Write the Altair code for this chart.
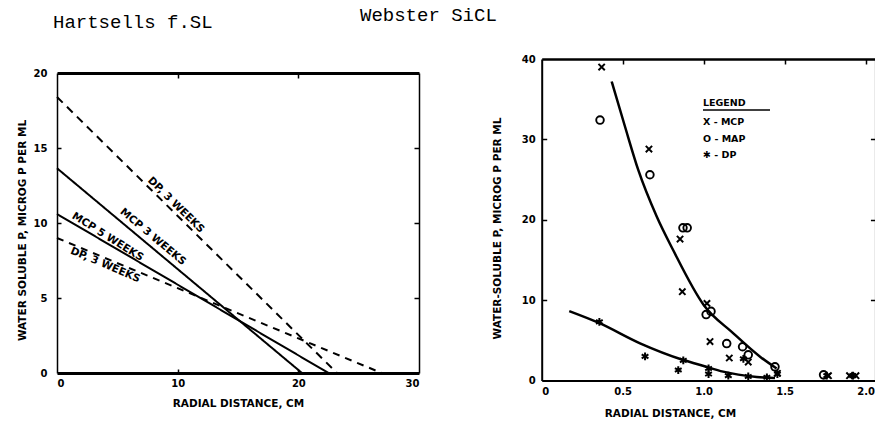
import altair as alt
import pandas as pd

# ---------------- data ----------------
# Left panel: Hartsells f.SL  (straight lines from radial distance 0 to where they reach 0)
left_keys = ["dp3_upper", "mcp3", "mcp5", "dp_lower"]
left_labels = ["DP, 3 WEEKS", "MCP 3 WEEKS", "MCP 5 WEEKS", "DP, 3 WEEKS"]
left_y_at_zero = [18.4, 13.65, 10.6, 9.0]
left_x_at_end = [23.2, 20.3, 22.5, 26.9]

# Right panel: Webster SiCL
upper_curve_x = [0.432, 0.514, 0.596, 0.71, 0.812, 1.0, 1.183, 1.348, 1.45]
upper_curve_y = [37.2, 31.6, 26.2, 20.4, 16.2, 9.4, 5.87, 2.96, 1.5]
lower_curve_x = [0.17, 0.35, 0.607, 0.874, 1.0, 1.12, 1.327, 1.44]
lower_curve_y = [8.64, 7.2, 4.63, 2.55, 1.8, 1.1, 0.45, 0.3]

mcp_x = [0.37, 0.662, 0.854, 0.868, 1.02, 1.039, 1.158, 1.275, 1.455, 1.77, 1.90, 1.94]
mcp_y = [39.0, 28.8, 17.6, 11.05, 9.6, 4.85, 2.8, 2.3, 0.9, 0.6, 0.6, 0.6]
map_x = [0.36, 0.668, 0.872, 0.898, 1.015, 1.045, 1.142, 1.24, 1.275, 1.44, 1.74]
map_y = [32.4, 25.6, 19.0, 19.0, 8.2, 8.6, 4.6, 4.2, 3.2, 1.7, 0.7]
dp_x = [0.356, 0.638, 0.874, 0.843, 1.03, 1.03, 1.152, 1.245, 1.275, 1.39, 1.455, 1.76, 1.92]
dp_y = [7.3, 3.0, 2.5, 1.3, 1.5, 0.8, 0.6, 2.7, 0.5, 0.4, 0.8, 0.6, 0.6]

left_x_ticks = [0, 10, 20, 30]
left_y_ticks = [0, 5, 10, 15, 20]
right_x_ticks = [0, 0.5, 1.0, 1.5, 2.0]
right_y_ticks = [0, 10, 20, 30, 40]

titles = ["Hartsells f.SL", "Webster SiCL"]
legend_lines = ["LEGEND", "X - MCP", "O - MAP", "\u2731 - DP"]
x_title = "RADIAL DISTANCE, CM"
left_y_title = "WATER SOLUBLE P, MICROG P PER ML"
right_y_title = "WATER-SOLUBLE P, MICROG P PER ML"

# ---------------- tables ----------------
rows = []
for k, y0, xe in zip(left_keys, left_y_at_zero, left_x_at_end):
    rows.append({"series": k, "x": 0.0, "y": y0})
    rows.append({"series": k, "x": xe, "y": 0.0})
left_df = pd.DataFrame(rows)

curve_df = pd.concat([
    pd.DataFrame({"curve": "upper", "x": upper_curve_x, "y": upper_curve_y}),
    pd.DataFrame({"curve": "lower", "x": lower_curve_x, "y": lower_curve_y}),
])
mcp_df = pd.DataFrame({"x": mcp_x, "y": mcp_y})
map_df = pd.DataFrame({"x": map_x, "y": map_y})
dp_df = pd.DataFrame({"x": dp_x, "y": dp_y})
one = pd.DataFrame({"a": [0]})

# ---------------- layout (pixels, relative to the left plot area) ----------------
W, H = 362, 300
LX = ([0, 30], [0, W])
LY = ([0, 20], [H, 0])
RX0 = 484.7
RX = ([0, 2.06], [RX0, RX0 + 2.06 * 162])
RY = ([0, 40], [307.5, -14])

FONT = "DejaVu Sans"
base_axis = dict(grid=False, labelFont=FONT, labelFontWeight="bold", labelFontSize=10,
                 labelColor="black", domainColor="black", tickColor="black",
                 titleFont=FONT, titleFontWeight="bold", titleFontSize=10.5,
                 titleColor="black")


def axis(**kw):
    d = dict(base_axis)
    d.update(kw)
    return alt.Axis(**d)


def scale(s):
    return alt.Scale(domain=s[0], range=s[1], nice=False, zero=False)


def X(s, ax=None):
    return alt.X("x:Q", scale=scale(s), axis=ax)


def Y(s, ax=None):
    return alt.Y("y:Q", scale=scale(s), axis=ax)


layers = []

# ---- left panel lines with labelled axes
layers.append(
    alt.Chart(left_df).mark_line(color="black", strokeWidth=2).encode(
        x=X(LX, axis(values=left_x_ticks, ticks=False, domainWidth=3, labelPadding=5,
                     title=x_title, titleX=181, titleY=30, titleAlign="center",
                     titleBaseline="middle", orient="bottom")),
        y=Y(LY, axis(values=left_y_ticks, ticks=False, domainWidth=1.5, labelPadding=10,
                     title=left_y_title, titleAngle=270, titleX=-35, titleY=157,
                     titleAlign="center", titleBaseline="middle", orient="left")),
        detail="series:N",
        strokeDash=alt.StrokeDash("series:N", legend=None, scale=alt.Scale(
            domain=left_keys, range=[[8, 6], [1, 0], [1, 0], [7, 6]])),
    )
)
# frame top/right with inward ticks
layers.append(
    alt.Chart(left_df).mark_point(opacity=0).encode(
        x=X(LX, axis(orient="bottom", offset=-H, values=[10, 20], tickSize=5, tickWidth=1.5,
                     labels=False, title=None, domainWidth=3)),
        y=Y(LY, axis(orient="left", offset=-W, values=[5, 10, 15], tickSize=5, tickWidth=1.5,
                     labels=False, title=None, domainWidth=1.5)),
    )
)
# inward ticks on left/bottom
layers.append(
    alt.Chart(left_df).mark_point(opacity=0).encode(
        x=X(LX, axis(orient="top", offset=-H, values=[10, 20], tickSize=4, tickWidth=1.5,
                     labels=False, title=None, domain=False)),
        y=Y(LY, axis(orient="right", offset=-W, values=[5, 10, 15], tickSize=4, tickWidth=1.5,
                     labels=False, title=None, domain=False)),
    )
)

# left line labels
label_pos = [(9.86, 11.2, 44.6), (7.95, 9.07, 40), (4.2, 9.07, 32), (4.0, 7.2, 23)]
for txt, (px, py, ang) in zip(left_labels, label_pos):
    layers.append(
        alt.Chart(one).mark_text(text=txt, font=FONT, fontWeight="bold", fontSize=10.5,
                                 angle=ang, align="center", baseline="middle",
                                 color="black").encode(
            x=alt.XDatum(px, type="quantitative", scale=scale(LX), axis=None),
            y=alt.YDatum(py, type="quantitative", scale=scale(LY), axis=None),
        )
    )

# ---- right panel curves with labelled axes
layers.append(
    alt.Chart(curve_df).mark_line(color="black", strokeWidth=2.5, interpolate="monotone").encode(
        x=X(RX, axis(orient="bottom", offset=7.5, values=right_x_ticks, ticks=False,
                     domainWidth=2, labelPadding=5.5,
                     labelExpr="datum.value == 0 ? '0' : format(datum.value, '.1f')",
                     title=x_title, titleX=613, titleY=33, titleAlign="center",
                     titleBaseline="middle")),
        y=Y(RY, axis(orient="left", offset=-RX0, values=right_y_ticks, ticks=False,
                     domainWidth=2, labelPadding=6.5, title=right_y_title, titleAngle=270,
                     titleX=-44.7, titleY=155, titleAlign="center", titleBaseline="middle")),
        detail="curve:N",
        order="x:Q",
    )
)
# frame top/right with inward ticks
layers.append(
    alt.Chart(curve_df).mark_point(opacity=0).encode(
        x=X(RX, axis(orient="bottom", offset=-314, values=[0.5, 1.0, 1.5, 2.0], tickSize=5,
                     tickWidth=1.5, labels=False, title=None, domainWidth=2.5)),
        y=Y(RY, axis(orient="left", offset=-(RX0 + 2.06 * 162), values=[10, 20, 30],
                     tickSize=5, tickWidth=1.5, labels=False, title=None, domainWidth=2)),
    )
)
# inward ticks on left side
layers.append(
    alt.Chart(curve_df).mark_point(opacity=0).encode(
        x=X(RX),
        y=Y(RY, axis(orient="right", offset=RX0 - W, values=[10, 20, 30], tickSize=5,
                     tickWidth=1.5, labels=False, title=None, domain=False)),
    )
)

XPATH = "M-1,-1L1,1M-1,1L1,-1"
STAR = "M0,-1L0,1M-0.87,-0.5L0.87,0.5M-0.87,0.5L0.87,-0.5"
for df, shape, size, sw in [(mcp_df, XPATH, 40, 2), (map_df, "circle", 58, 1.9),
                            (dp_df, STAR, 60, 2)]:
    layers.append(
        alt.Chart(df).mark_point(shape=shape, size=size, filled=False, color="black",
                                 strokeWidth=sw, opacity=1).encode(
            x=X(RX), y=Y(RY))
    )

# legend (typed box inside right panel)
leg_y = [30.3, 48.7, 66, 82]
for txt, yy in zip(legend_lines, leg_y):
    layers.append(
        alt.Chart(one).mark_text(text=txt, font=FONT, fontWeight="bold", fontSize=9.5,
                                 align="left", baseline="middle", color="black").encode(
            x=alt.value(646), y=alt.value(yy))
    )
layers.append(
    alt.Chart(one).mark_rule(color="black", strokeWidth=1.5).encode(
        x=alt.value(646), x2=alt.value(713), y=alt.value(37))
)

# panel titles
for txt, tx, ty in zip(titles, [-4, 303], [-45, -52.3]):
    layers.append(
        alt.Chart(one).mark_text(text=txt, font="Liberation Mono", fontSize=19,
                                 align="left", baseline="alphabetic", color="black").encode(
            x=alt.value(tx), y=alt.value(ty))
    )

chart = alt.layer(*layers).resolve_scale(x="independent", y="independent").properties(
    width=W, height=H,
    padding={"left": 57, "top": 73, "right": 456, "bottom": 51},
    autosize=alt.AutoSizeParams(type="none"),
    background="white",
).configure_view(stroke=None)

chart.save("out.html", embed_options={"renderer": "svg", "actions": False})
